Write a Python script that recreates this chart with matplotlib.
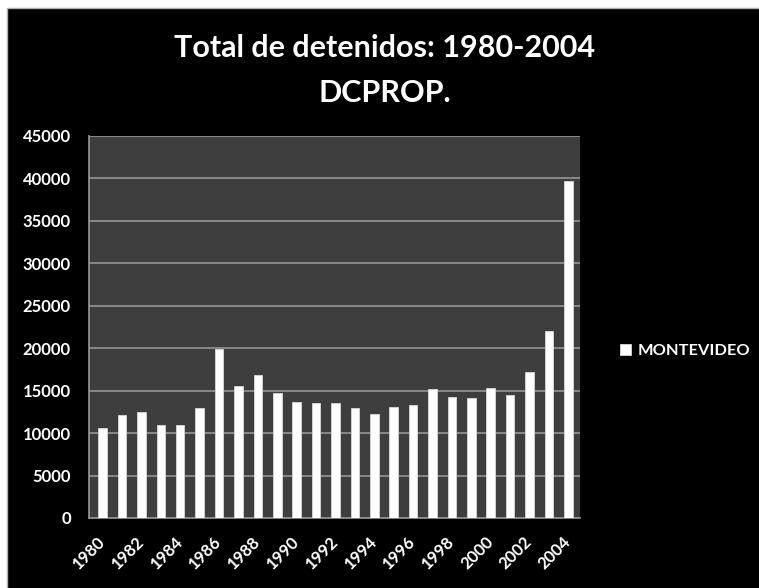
import matplotlib
matplotlib.use("Agg")
import matplotlib.pyplot as plt
from matplotlib.patches import Rectangle
import numpy as np

plt.rcParams['font.family'] = ['Lato', 'DejaVu Sans']

# Detenidos por año, Montevideo
years = [1980, 1981, 1982, 1983, 1984, 1985, 1986, 1987, 1988, 1989,
         1990, 1991, 1992, 1993, 1994, 1995, 1996, 1997, 1998, 1999,
         2000, 2001, 2002, 2003, 2004]
montevideo = [10600, 12100, 12500, 11000, 10900, 13000, 19900, 15500, 16900, 14700,
              13700, 13500, 13500, 13000, 12300, 13100, 13300, 15200, 14200, 14100,
              15300, 14500, 17200, 22000, 39700]
series_name = "MONTEVIDEO"
y_ticks = [0, 5000, 10000, 15000, 20000, 25000, 30000, 35000, 40000, 45000]
title_lines = ["Total de detenidos: 1980-2004", "DCPROP."]

W, H = 759, 588
fig = plt.figure(figsize=(W / 100, H / 100), dpi=100)
fig.patch.set_facecolor("white")

# black slide background with a thin light frame at the top-left
fig.patches.append(Rectangle((7 / W, -0.01), 1.02, (H - 8) / H + 0.01,
                             transform=fig.transFigure, facecolor="black",
                             edgecolor="#b0b0b0", linewidth=1.0, zorder=-10))

ax = fig.add_axes([89 / W, 70 / H, 491 / W, 382 / H])
ax.set_facecolor("#3e3e3e")

x = np.arange(len(years))
ax.bar(x, montevideo, width=0.44, color="white", edgecolor="#d8d8d8",
       linewidth=0.6, zorder=3, label=series_name)

ax.set_xlim(-0.7, len(years) - 0.4)
ax.set_ylim(0, 45000)
ax.set_yticks(y_ticks)
ax.set_yticklabels([str(v) for v in y_ticks])
ax.yaxis.grid(True, color="#8e8e8e", linewidth=1.3, zorder=1)
ax.set_axisbelow(True)

even = x[::2]
ax.set_xticks(even)
ax.set_xticklabels([str(years[i]) for i in even], rotation=45, ha="right",
                   va="center", rotation_mode="anchor")

ax.tick_params(axis="both", length=0, colors="white", labelsize=12)
ax.tick_params(axis="y", pad=13)
ax.tick_params(axis="x", pad=15)
for lab in ax.get_xticklabels() + ax.get_yticklabels():
    lab.set_fontweight("bold")

for side in ["top", "right"]:
    ax.spines[side].set_visible(False)
for side in ["left", "bottom"]:
    ax.spines[side].set_color("#8e8e8e")
    ax.spines[side].set_linewidth(1.3)

fig.text(385 / W, 1 - 57 / H, title_lines[0], ha="center", va="baseline",
         color="white", fontsize=22, fontweight="bold")
fig.text(385 / W, 1 - 102 / H, title_lines[1], ha="center", va="baseline",
         color="white", fontsize=22, fontweight="bold")

leg = ax.legend(loc="center left", bbox_to_anchor=(620 / W, 1 - 351 / H),
                bbox_transform=fig.transFigure, frameon=False,
                handlelength=0.7, handleheight=0.7, handletextpad=0.35,
                borderpad=0, borderaxespad=0, fontsize=11.8)
for t in leg.get_texts():
    t.set_color("white")
    t.set_fontweight("bold")

fig.savefig("out.png", dpi=100, facecolor=fig.get_facecolor())
